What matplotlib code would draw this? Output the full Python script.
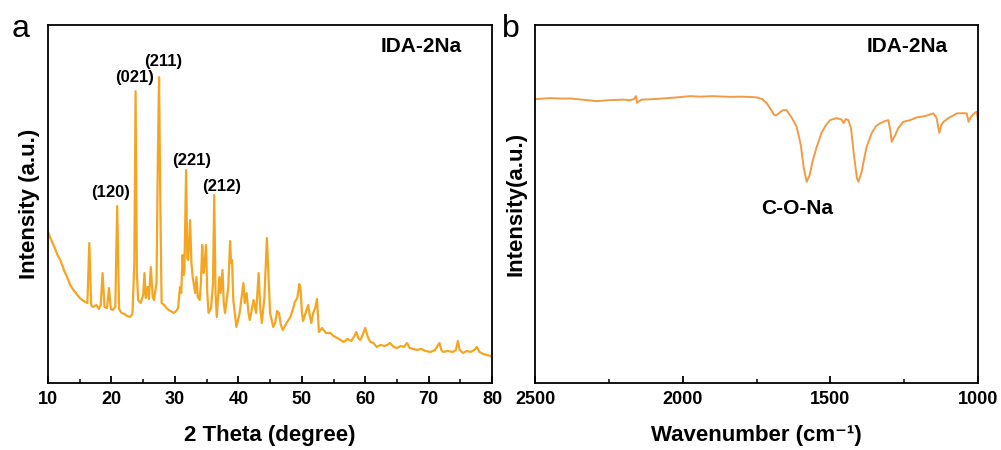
import matplotlib
matplotlib.use("Agg")
import matplotlib.pyplot as plt
from matplotlib.ticker import MultipleLocator

plt.rcParams['font.family'] = ['Liberation Sans', 'DejaVu Sans']
plt.rcParams['font.weight'] = 'bold'

# XRD pattern (2 theta, intensity in a.u.)
xrd_2theta = [10.0, 10.5, 11.0, 11.5, 12.0, 12.5, 13.0, 13.5, 14.0, 14.5, 15.0, 15.6, 16.2, 16.5, 16.8,
              17.1, 17.6, 18.0, 18.3, 18.6, 18.9, 19.3, 19.6, 19.9, 20.2, 20.6, 20.9, 21.2, 21.6, 22.0,
              22.5, 22.9, 23.3, 23.6, 23.8, 24.0, 24.2, 24.6, 25.0, 25.2, 25.4, 25.7, 25.9, 26.2, 26.5,
              26.7, 27.1, 27.3, 27.5, 27.7, 27.9, 28.3, 28.8, 29.3, 29.8, 30.2, 30.5, 30.8, 31.0, 31.2,
              31.4, 31.5, 31.76, 31.95, 32.1, 32.4, 32.6, 32.8, 33.2, 33.4, 33.6, 33.9, 34.1, 34.3, 34.5,
              34.7, 34.9, 35.1, 35.3, 35.7, 36.0, 36.2, 36.4, 36.6, 37.0, 37.2, 37.5, 37.7, 37.9, 38.4,
              38.7, 38.85, 39.0, 39.2, 39.7, 40.2, 40.5, 40.8, 41.0, 41.3, 41.6, 41.8, 42.4, 42.8, 43.2,
              43.45, 43.7, 44.1, 44.5, 44.8, 45.0, 45.5, 45.8, 46.1, 46.4, 46.7, 47.0, 47.6, 48.2, 48.7,
              48.9, 49.3, 49.6, 49.8, 50.0, 50.2, 50.6, 51.0, 51.3, 51.5, 51.8, 52.1, 52.4, 52.7, 53.2,
              53.8, 54.5, 55.0, 55.6, 56.1, 56.6, 57.2, 57.8, 58.3, 58.6, 58.9, 59.2, 59.6, 60.0, 60.4,
              60.8, 61.3, 61.8, 62.4, 63.0, 63.5, 63.9, 64.5, 65.0, 65.6, 66.1, 66.6, 67.0, 67.6, 68.1,
              68.8, 69.5, 70.3, 71.0, 71.7, 72.0, 72.3, 73.0, 73.8, 74.3, 74.6, 74.9, 75.4, 76.0, 76.6,
              77.2, 77.6, 78.0, 78.6, 79.2, 79.7, 80.0]
xrd_int = [151, 143, 136, 128, 122, 113, 106, 98, 93, 89, 85, 82, 80, 140, 78,
           76, 78, 74, 78, 110, 76, 75, 95, 74, 73, 76, 177, 74, 70, 69,
           67, 66, 69, 120, 292, 110, 83, 80, 88, 110, 85, 96, 84, 116, 86,
           83, 100, 220, 306, 180, 80, 78, 74, 72, 70, 72, 75, 96, 90, 128,
           108, 113, 213, 125, 123, 163, 120, 106, 90, 106, 86, 83, 100, 138, 110,
           120, 138, 90, 70, 75, 100, 188, 90, 66, 106, 90, 113, 80, 70, 95,
           142, 120, 123, 83, 56, 70, 85, 100, 80, 90, 70, 63, 83, 70, 110,
           75, 60, 85, 145, 100, 70, 56, 60, 72, 70, 58, 53, 60, 66, 76,
           81, 85, 99, 95, 72, 62, 70, 78, 66, 60, 70, 75, 84, 51, 55,
           50, 50, 47, 45, 43, 41, 44, 42, 47, 51, 45, 43, 48, 55, 46,
           41, 40, 36, 38, 37, 38, 40, 36, 35, 37, 36, 40, 35, 34, 33,
           34, 32, 31, 33, 40, 33, 31, 32, 31, 33, 42, 33, 30, 32, 31,
           33, 36, 31, 29, 28, 27, 26]

peak_labels = ['(120)', '(021)', '(211)', '(221)', '(212)']
peak_label_x = [19.9, 23.56, 28.1, 32.6, 37.3]
peak_label_y = [191, 306, 322, 223, 197]

# FTIR spectrum (wavenumber, transmittance in a.u.)
ir_wn = [2500, 2450, 2400, 2381, 2340, 2291, 2250, 2200, 2178, 2165, 2158, 2155, 2140, 2100, 2066,
         2030, 1975, 1940, 1900, 1840, 1800, 1760, 1749, 1730, 1715, 1700, 1690, 1682, 1670, 1660,
         1648, 1630, 1614, 1600, 1590, 1580, 1570, 1560, 1546, 1530, 1515, 1501, 1480, 1462, 1455,
         1448, 1439, 1430, 1420, 1410, 1405, 1395, 1385, 1377, 1360, 1345, 1332, 1315, 1304, 1298,
         1292, 1286, 1280, 1270, 1253, 1230, 1208, 1180, 1151, 1140, 1131, 1124, 1117, 1100, 1072,
         1050, 1038, 1032, 1025, 1010, 1004, 1000]
ir_int = [284, 285, 284.5, 284.7, 283.5, 282, 283, 283.5, 283, 284, 287, 280.5, 283.5, 284, 284.7,
          285.5, 287, 286.5, 287, 286.3, 286.5, 286, 285.7, 284, 279.7, 273, 268, 268, 271, 273,
          273, 265, 256.3, 238, 215, 201.3, 208, 222, 236.3, 250, 258, 263, 265, 263.7, 260,
          264, 263, 255, 228, 205, 201.3, 210, 225, 236.3, 250, 257, 259.7, 262, 263, 255,
          241.3, 245, 248, 255, 261.3, 263, 265.7, 267, 269.7, 265, 250.3, 258, 261.3, 265, 269.7,
          270, 269.7, 261.3, 266, 270.5, 271.3, 263]

fig = plt.figure(figsize=(10.01, 4.5), dpi=100)
ax1 = fig.add_axes([0.048, 0.149, 0.4436, 0.795])
ax2 = fig.add_axes([0.5345, 0.149, 0.4425, 0.795])

# panel a
ax1.plot(xrd_2theta, xrd_int, color='#F4A622', lw=1.6)
for lab, x, y in zip(peak_labels, peak_label_x, peak_label_y):
    ax1.text(x, y, lab, ha='center', va='center', fontsize=12, fontweight='bold')
ax1.text(0.84, 0.94, 'IDA-2Na', transform=ax1.transAxes, ha='center', va='center',
         fontsize=15, fontweight='bold')
ax1.set_xlim(10, 80)
ax1.set_ylim(0, 358)
ax1.xaxis.set_major_locator(MultipleLocator(10))
ax1.xaxis.set_minor_locator(MultipleLocator(5))
ax1.set_xlabel('2 Theta (degree)', fontsize=16, fontweight='bold', labelpad=12)
ax1.set_ylabel('Intensity (a.u.)', fontsize=16, fontweight='bold', labelpad=6)

# panel b
ax2.plot(ir_wn, ir_int, color='#F39A45', lw=1.4)
ax2.text(1613, 175, 'C-O-Na', ha='center', va='center', fontsize=15, fontweight='bold')
ax2.text(0.84, 0.94, 'IDA-2Na', transform=ax2.transAxes, ha='center', va='center',
         fontsize=15, fontweight='bold')
ax2.set_xlim(2500, 1000)
ax2.set_ylim(0, 358)
ax2.xaxis.set_major_locator(MultipleLocator(500))
ax2.xaxis.set_minor_locator(MultipleLocator(250))
ax2.set_xlabel('Wavenumber (cm\u207b\u00b9)', fontsize=16, fontweight='bold', labelpad=12)
ax2.set_ylabel('Intensity(a.u.)', fontsize=16, fontweight='bold', labelpad=6)

for ax in (ax1, ax2):
    ax.set_yticks([])
    for s in ax.spines.values():
        s.set_linewidth(1.3)
    ax.tick_params(axis='x', which='major', direction='in', length=5, width=1.3,
                   labelsize=13, pad=6)
    ax.tick_params(axis='x', which='minor', direction='in', length=3, width=1.1)
    for t in ax.get_xticklabels():
        t.set_fontweight('bold')

fig.text(0.012, 0.918, 'a', fontsize=23, fontweight='normal', va='baseline')
fig.text(0.5015, 0.918, 'b', fontsize=23, fontweight='normal', va='baseline')

fig.savefig('out.png', dpi=100)
